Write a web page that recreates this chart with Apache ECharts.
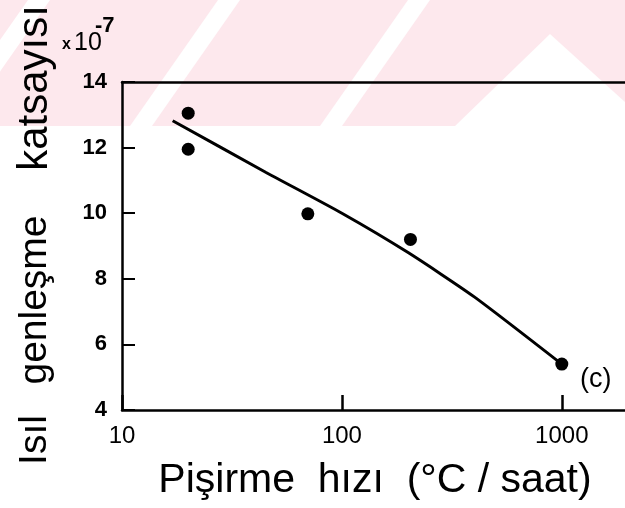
<!DOCTYPE html>
<html>
<head>
<meta charset="utf-8">
<script src="https://cdn.jsdelivr.net/npm/echarts@6/dist/echarts.min.js"></script>
<style>
html,body{margin:0;padding:0;background:#fff;}
#chart{width:625px;height:508px;}
</style>
</head>
<body>
<div id="chart"></div>
<script>
// Fitted curve (heating rate °C/saat vs. coefficient ×10^-7)
const curveRate = [17, 45, 100, 200, 400, 1000];
const curveCoef = [12.82, 11.25, 10.0, 8.8, 7.45, 5.4];
// Measured points
const pointRate = [20, 20, 70, 205, 1000];
const pointCoef = [13.05, 11.95, 9.98, 9.2, 5.4];
// Axis ticks
const yTicks = [4, 6, 8, 10, 12, 14];
const xTicks = [10, 100, 1000];

const FONT = '"Liberation Sans", Arial, sans-serif';
const chart = echarts.init(document.getElementById('chart'), null, {renderer: 'canvas'});

// faint watermark stripes (background decoration of the scan)
const pink = '#fde8ed';
const stripes = [];
[-60, 130, 320].forEach(function (x0) {
  stripes.push({
    type: 'polygon', silent: true, z: -10,
    shape: {points: [[x0, 126], [x0 + 22, 126], [x0 + 22 + 88, 0], [x0 + 88, 0]]},
    style: {fill: '#ffffff'}
  });
});

const option = {
  backgroundColor: '#ffffff',
  animation: false,
  grid: {left: 122, top: 82, width: 506, height: 328, outerBoundsMode: 'none', containLabel: false, show: false},
  xAxis: [{
    type: 'log', logBase: 10, min: 10, max: 2000,
    name: 'Pişirme  hızı  (°C / saat)', nameLocation: 'middle', nameGap: 50,
    nameTextStyle: {fontFamily: FONT, fontSize: 41, color: '#000'},
    axisLine: {show: true, lineStyle: {color: '#000', width: 2.5}},
    axisTick: {show: true, inside: true, length: 15, lineStyle: {color: '#000', width: 2.5}},
    axisLabel: {show: true, fontFamily: FONT, fontSize: 24, color: '#000', margin: 14, showMaxLabel: false,
      formatter: function (v) { return xTicks.indexOf(Math.round(v)) >= 0 ? String(Math.round(v)) : ''; }},
    splitLine: {show: false}, minorTick: {show: false}
  }, {
    type: 'log', logBase: 10, min: 10, max: 2000, position: 'top',
    axisLine: {show: true, lineStyle: {color: '#000', width: 2.5}},
    axisTick: {show: false}, axisLabel: {show: false}, splitLine: {show: false}
  }],
  yAxis: {
    type: 'value', min: 4, max: 14, interval: 2,
    axisLine: {show: true, lineStyle: {color: '#000', width: 2.5}},
    axisTick: {show: true, inside: true, length: 13, lineStyle: {color: '#000', width: 2}},
    axisLabel: {show: true, fontFamily: FONT, fontSize: 22, fontWeight: 'bold', color: '#000', margin: 15,
      formatter: function (v) { return yTicks.indexOf(v) >= 0 ? String(v) : ''; }},
    splitLine: {show: false}
  },
  graphic: [
    {type: 'rect', silent: true, z: -20, shape: {x: 0, y: 0, width: 625, height: 126}, style: {fill: pink}},
  ].concat(stripes).concat([
    {type: 'polygon', silent: true, z: -10, shape: {points: [[455, 126], [550, 34], [625, 102], [625, 126]]}, style: {fill: '#ffffff'}},
    {type: 'text', x: 35, y: 440, rotation: Math.PI / 2, z: 10,
      style: {text: 'Isıl', font: '39px ' + FONT, fill: '#000', align: 'center', verticalAlign: 'middle'}},
    {type: 'text', x: 35, y: 300, rotation: Math.PI / 2, z: 10,
      style: {text: 'genleşme', font: '39px ' + FONT, fill: '#000', align: 'center', verticalAlign: 'middle'}},
    {type: 'text', x: 35, y: 88, rotation: Math.PI / 2, z: 10,
      style: {text: 'katsayısı', font: '42px ' + FONT, fill: '#000', align: 'center', verticalAlign: 'middle'}},
    {type: 'text', x: 62, y: 45, z: 10,
      style: {text: 'x', font: 'bold 16px ' + FONT, fill: '#000', align: 'left', verticalAlign: 'middle'}},
    {type: 'text', x: 74, y: 43, z: 10,
      style: {text: '10', font: '25px ' + FONT, fill: '#000', align: 'left', verticalAlign: 'middle'}},
    {type: 'text', x: 95, y: 26, z: 10,
      style: {text: '-7', font: 'bold 22px ' + FONT, fill: '#000', align: 'left', verticalAlign: 'middle'}},
    {type: 'text', x: 580, y: 380, z: 10,
      style: {text: '(c)', font: '27px ' + FONT, fill: '#000', align: 'left', verticalAlign: 'middle'}}
  ]),
  series: [
    {
      type: 'line', smooth: 0.2, showSymbol: false, silent: true,
      data: curveRate.map(function (r, i) { return [r, curveCoef[i]]; }),
      lineStyle: {color: '#000', width: 3}
    },
    {
      type: 'scatter', symbol: 'circle', symbolSize: 13, silent: true,
      data: pointRate.map(function (r, i) { return [r, pointCoef[i]]; }),
      itemStyle: {color: '#000', opacity: 1}
    }
  ]
};
chart.setOption(option);
</script>
</body>
</html>
